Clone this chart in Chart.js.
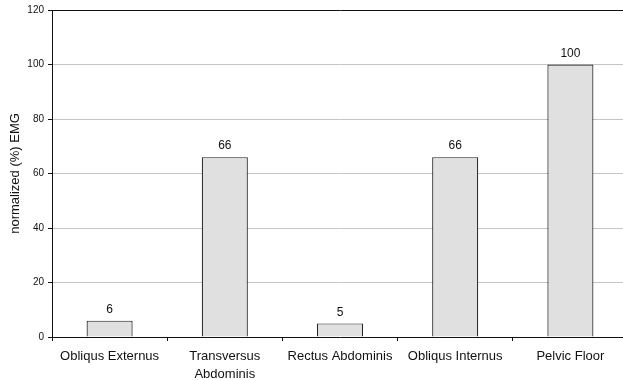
<!DOCTYPE html>
<html>
<head>
<meta charset="utf-8">
<script src="https://cdn.jsdelivr.net/npm/chart.js@4"></script>
<style>
  html, body { margin: 0; padding: 0; background: #fff; overflow: hidden; }
  #wrap { width: 628px; height: 380px; position: relative; }
</style>
</head>
<body>
<div id="wrap"><canvas id="emgChart"></canvas></div>
<script>
// muscle groups and normalized EMG values
const muscles = [['Obliqus Externus'], ['Transversus', 'Abdominis'], ['Rectus Abdominis'], ['Obliqus Internus'], ['Pelvic Floor']];
const emgValues = [6, 66, 5, 66, 100];
const yTicks = [0, 20, 40, 60, 80, 100, 120];

const FONT = 'Liberation Sans, Arial, sans-serif';
const INK = '#111';

// value labels above each bar
const barLabels = {
  id: 'barLabels',
  afterDatasetsDraw(chart) {
    const { ctx } = chart;
    const meta = chart.getDatasetMeta(0);
    ctx.save();
    ctx.font = '12px ' + FONT;
    ctx.fillStyle = INK;
    ctx.textAlign = 'center';
    ctx.textBaseline = 'bottom';
    meta.data.forEach((bar, i) => {
      ctx.fillText(String(emgValues[i]), bar.x, bar.y - 5);
    });
    ctx.restore();
  }
};

new Chart(document.getElementById('emgChart'), {
  type: 'bar',
  data: {
    labels: muscles,
    datasets: [{
      data: emgValues,
      backgroundColor: '#e0e0e0',
      borderColor: '#222',
      borderWidth: 1.2,
      borderSkipped: 'bottom',
      categoryPercentage: 1,
      barPercentage: 0.4,
    }],
  },
  options: {
    responsive: true, maintainAspectRatio: false,
    animation: false,
    layout: { padding: { top: 10, right: 0, left: 0, bottom: 0 } },
    plugins: { legend: { display: false }, tooltip: { enabled: false } },
    scales: {
      x: {
        afterFit: s => { s.height = 43; },
        border: { display: true, color: INK, width: 1 },
        grid: { offset: true, drawOnChartArea: false, drawTicks: true, tickLength: 4, tickColor: INK },
        ticks: { color: INK, font: { family: FONT, size: 13, lineHeight: 1.35 }, padding: 7, maxRotation: 0, autoSkip: false },
      },
      y: {
        min: 0, max: 120,
        afterFit: s => { s.width = 52; },
        afterBuildTicks: s => { s.ticks = yTicks.map(v => ({ value: v })); },
        border: { display: true, color: INK, width: 1 },
        grid: {
          color: c => c.tick && c.tick.value === 120 ? INK : '#c4c4c4',
          tickColor: INK,
          tickLength: 4,
        },
        ticks: { color: INK, font: { family: FONT, size: 10 }, padding: 4 },
        title: {
          display: true, text: 'normalized (%) EMG',
          color: INK, font: { family: FONT, size: 13 }, padding: { top: 8, bottom: 2 },
        },
      },
    },
  },
  plugins: [barLabels],
});
</script>
</body>
</html>
